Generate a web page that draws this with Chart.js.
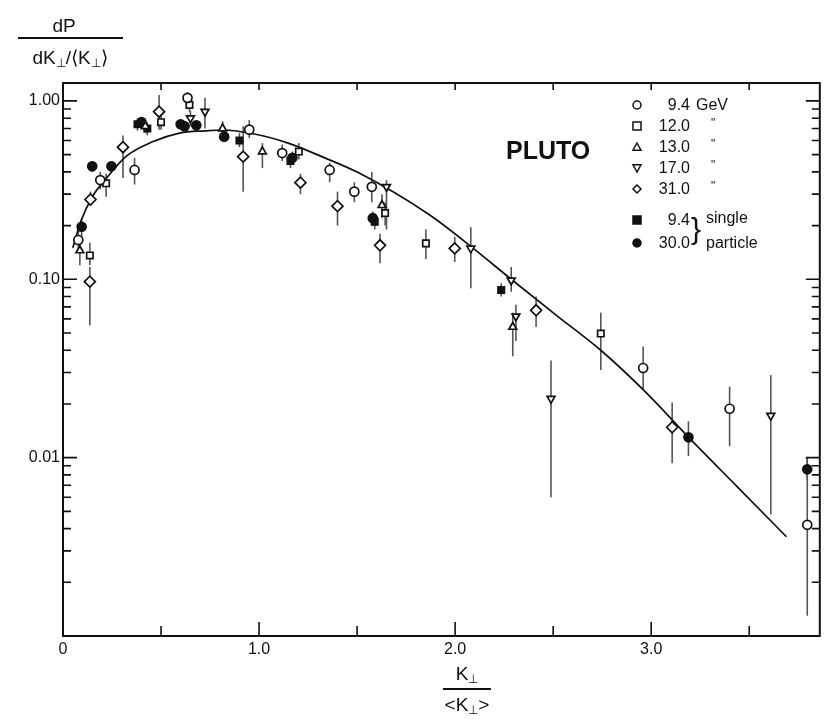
<!DOCTYPE html>
<html>
<head>
<meta charset="utf-8">
<script src="https://cdn.jsdelivr.net/npm/chart.js@4.4.0/dist/chart.umd.min.js"></script>
<style>
  html, body { margin: 0; padding: 0; background: #fff; }
  #wrap { width: 827px; height: 724px; }
</style>
</head>
<body>
<div id="wrap"><canvas id="chart" width="827" height="724"></canvas></div>
<script>
// fitted curve
const curveK = [0.05, 0.09, 0.154, 0.205, 0.323, 0.457, 0.594, 0.73, 0.81, 0.983, 1.152, 1.32, 1.508, 1.863, 2.083, 2.286, 2.523, 2.743, 2.963, 3.2, 3.437, 3.69];
const curveP = [0.15, 0.21, 0.296, 0.35, 0.49, 0.59, 0.66, 0.68, 0.687, 0.65, 0.578, 0.487, 0.395, 0.232, 0.152, 0.1, 0.062, 0.04, 0.0238, 0.0127, 0.0069, 0.0036];

// points: [K/<K>, dP, error low, error high]
const circle94 = [
  [0.078, 0.166, 0.14, 0.2], [0.19, 0.36, 0.32, 0.4], [0.365, 0.41, 0.34, 0.48],
  [0.635, 1.04, 0.95, 1.12], [0.95, 0.69, 0.62, 0.78], [1.118, 0.51, 0.46, 0.57],
  [1.36, 0.41, 0.35, 0.45], [1.486, 0.31, 0.27, 0.35], [1.575, 0.33, 0.27, 0.4],
  [2.959, 0.0318, 0.024, 0.042], [3.4, 0.0188, 0.0116, 0.025], [3.796, 0.0042, 0.0013, 0.01]
];
const square120 = [
  [0.137, 0.136, 0.12, 0.16], [0.22, 0.345, 0.29, 0.39], [0.5, 0.76, 0.69, 0.84],
  [0.645, 0.95, 0.87, 1.03], [1.203, 0.52, 0.47, 0.58], [1.643, 0.235, 0.2, 0.27],
  [1.851, 0.159, 0.13, 0.19], [2.743, 0.0496, 0.031, 0.065]
];
const triUp130 = [
  [0.086, 0.145, 0.12, 0.17], [0.42, 0.72, 0.66, 0.8], [0.814, 0.7, 0.63, 0.77],
  [1.017, 0.52, 0.42, 0.58], [1.627, 0.26, 0.22, 0.3], [2.294, 0.054, 0.037, 0.065]
];
const triDown170 = [
  [0.724, 0.87, 0.7, 1.04], [0.65, 0.8, 0.72, 0.88], [1.65, 0.33, 0.19, 0.36],
  [2.08, 0.149, 0.089, 0.196], [2.286, 0.0987, 0.085, 0.117], [2.31, 0.062, 0.045, 0.072],
  [2.489, 0.0214, 0.006, 0.035], [3.61, 0.0172, 0.0048, 0.029]
];
const diamond310 = [
  [0.137, 0.097, 0.055, 0.117], [0.14, 0.28, 0.26, 0.31], [0.306, 0.55, 0.37, 0.64],
  [0.49, 0.87, 0.69, 1.08], [0.919, 0.487, 0.31, 0.72], [1.211, 0.348, 0.3, 0.39],
  [1.4, 0.257, 0.2, 0.31], [1.617, 0.155, 0.123, 0.18], [1.998, 0.149, 0.125, 0.173],
  [2.413, 0.067, 0.054, 0.08], [3.107, 0.0148, 0.0093, 0.0204]
];
const single94 = [
  [0.38, 0.74, 0.68, 0.8], [0.43, 0.7, 0.64, 0.76], [0.9, 0.6, 0.55, 0.66],
  [1.16, 0.46, 0.42, 0.5], [1.59, 0.21, 0.19, 0.23], [2.235, 0.087, 0.08, 0.095]
];
const single300 = [
  [0.095, 0.197, 0.17, 0.22], [0.149, 0.43, 0.4, 0.46], [0.247, 0.43, 0.4, 0.46],
  [0.4, 0.76, 0.72, 0.8], [0.6, 0.74, 0.7, 0.78], [0.62, 0.72, 0.68, 0.76],
  [0.68, 0.73, 0.69, 0.77], [0.822, 0.63, 0.59, 0.67], [1.17, 0.48, 0.44, 0.52],
  [1.58, 0.22, 0.2, 0.24], [3.19, 0.013, 0.0102, 0.016], [3.796, 0.0086, 0.0075, 0.01]
];

const xTickValues = [0, 0.5, 1, 1.5, 2, 2.5, 3, 3.5];
const yLabelValues = [0.01, 0.1, 1];

const legendRows = [
  { style: 'circle', filled: false, num: '9.4', unit: 'GeV' },
  { style: 'rect', filled: false, num: '12.0', unit: '"' },
  { style: 'triangle', filled: false, num: '13.0', unit: '"' },
  { style: 'triDown', filled: false, num: '17.0', unit: '"' },
  { style: 'rectRot', filled: false, num: '31.0', unit: '"' },
  { style: 'rect', filled: true, num: '9.4', unit: '' },
  { style: 'circle', filled: true, num: '30.0', unit: '' }
];

const INK = '#111';
const FONT = '"Liberation Sans", Arial, sans-serif';

const pointSet = (rows, style, filled, rotation) => ({
  type: 'scatter',
  data: rows.map(r => ({ x: r[0], y: r[1] })),
  errors: rows.map(r => [r[2], r[3]]),
  pointStyle: style,
  rotation: rotation || 0,
  pointRadius: style === 'rectRot' ? 5.5 : 4.5,
  borderWidth: 1.7,
  borderColor: INK,
  backgroundColor: filled ? INK : '#fff',
  order: 1
});

// vertical error bars, drawn under the markers
const errorBars = {
  id: 'errorBars',
  beforeDatasetsDraw(chart) {
    const { ctx, scales: { x, y } } = chart;
    ctx.save();
    ctx.strokeStyle = '#555';
    ctx.lineWidth = 1.6;
    chart.data.datasets.forEach(ds => {
      if (!ds.errors) return;
      ds.errors.forEach((e, i) => {
        const px = x.getPixelForValue(ds.data[i].x);
        ctx.beginPath();
        ctx.moveTo(px, y.getPixelForValue(e[0]));
        ctx.lineTo(px, y.getPixelForValue(e[1]));
        ctx.stroke();
      });
    });
    ctx.restore();
  }
};

function drawSym(ctx, style, cx, cy, r, filled) {
  ctx.beginPath();
  if (style === 'circle') ctx.arc(cx, cy, r, 0, Math.PI * 2);
  else if (style === 'rect') ctx.rect(cx - r, cy - r, 2 * r, 2 * r);
  else if (style === 'triangle') { ctx.moveTo(cx, cy - r); ctx.lineTo(cx + r, cy + r * 0.8); ctx.lineTo(cx - r, cy + r * 0.8); ctx.closePath(); }
  else if (style === 'triDown') { ctx.moveTo(cx, cy + r); ctx.lineTo(cx + r, cy - r * 0.8); ctx.lineTo(cx - r, cy - r * 0.8); ctx.closePath(); }
  else if (style === 'rectRot') { ctx.moveTo(cx, cy - r); ctx.lineTo(cx + r, cy); ctx.lineTo(cx, cy + r); ctx.lineTo(cx - r, cy); ctx.closePath(); }
  if (filled) { ctx.fillStyle = INK; ctx.fill(); }
  ctx.stroke();
}

// text pieces with subscripts
function drawParts(ctx, parts, x, base, size, align) {
  const widths = parts.map(p => {
    ctx.font = (p.sub ? size * 0.62 : size) + 'px ' + FONT;
    return ctx.measureText(p.t).width;
  });
  const total = widths.reduce((a, b) => a + b, 0);
  let cx = align === 'center' ? x - total / 2 : x;
  ctx.textAlign = 'left';
  ctx.textBaseline = 'alphabetic';
  parts.forEach((p, i) => {
    ctx.font = (p.sub ? size * 0.62 : size) + 'px ' + FONT;
    ctx.fillText(p.t, cx, p.sub ? base + 3 : base);
    cx += widths[i];
  });
}

const frameAndText = {
  id: 'frameAndText',
  afterDraw(chart) {
    const { ctx, chartArea: a, scales: { x, y } } = chart;
    ctx.save();
    ctx.strokeStyle = INK;
    ctx.fillStyle = INK;
    ctx.lineWidth = 2;
    ctx.strokeRect(a.left, a.top, a.right - a.left, a.bottom - a.top);

    // x ticks, inward on bottom and top
    ctx.lineWidth = 1.6;
    xTickValues.forEach(v => {
      if (v === 0) return;
      const px = x.getPixelForValue(v);
      const len = Number.isInteger(v) ? 14 : 10;
      ctx.beginPath();
      ctx.moveTo(px, a.bottom); ctx.lineTo(px, a.bottom - len);
      ctx.moveTo(px, a.top); ctx.lineTo(px, a.top + 7);
      ctx.stroke();
    });
    // y ticks, log decades with minors
    for (let d = 0.001; d < 2; d *= 10) {
      for (let m = 1; m <= 9; m++) {
        const v = d * m;
        if (v > y.max || v <= y.min) continue;
        const py = y.getPixelForValue(v);
        const len = m === 1 ? 14 : 8;
        ctx.beginPath();
        ctx.moveTo(a.left, py); ctx.lineTo(a.left + len, py);
        ctx.moveTo(a.right, py); ctx.lineTo(a.right - len, py);
        ctx.stroke();
      }
    }

    // y axis title: dP / dK⊥/⟨K⊥⟩
    drawParts(ctx, [{ t: 'dP' }], 64, 32, 19, 'center');
    ctx.lineWidth = 2;
    ctx.beginPath(); ctx.moveTo(18, 38); ctx.lineTo(123, 38); ctx.stroke();
    drawParts(ctx, [{ t: 'dK' }, { t: '⊥', sub: true }, { t: '/⟨K' }, { t: '⊥', sub: true }, { t: '⟩' }], 70, 64, 19, 'center');

    // x axis title: K⊥ / <K⊥>
    drawParts(ctx, [{ t: 'K' }, { t: '⊥', sub: true }], 467, 680, 19, 'center');
    ctx.beginPath(); ctx.moveTo(443, 689); ctx.lineTo(491, 689); ctx.stroke();
    drawParts(ctx, [{ t: '<K' }, { t: '⊥', sub: true }, { t: '>' }], 467, 711, 19, 'center');

    // PLUTO
    ctx.font = 'bold 25px ' + FONT;
    ctx.textAlign = 'left';
    ctx.fillText('PLUTO', 506, 159);

    // legend
    const rowY = [105, 126, 147, 168, 189, 220, 243];
    ctx.lineWidth = 1.5;
    legendRows.forEach((row, i) => {
      drawSym(ctx, row.style, 637, rowY[i], 4, row.filled);
      ctx.font = '16px ' + FONT;
      ctx.textAlign = 'right';
      ctx.textBaseline = 'middle';
      ctx.fillText(row.num, 690, rowY[i] + 1);
      ctx.textAlign = 'left';
      if (row.unit === 'GeV') ctx.fillText('GeV', 696, rowY[i] + 1);
      else if (row.unit) { ctx.font = '12px ' + FONT; ctx.fillText(row.unit, 711, rowY[i] - 2); }
    });
    ctx.font = '30px ' + FONT;
    ctx.textAlign = 'left';
    ctx.textBaseline = 'middle';
    ctx.fillText('}', 691, 231);
    ctx.font = '16px ' + FONT;
    ctx.fillText('single', 706, 219);
    ctx.fillText('particle', 706, 244);
    ctx.restore();
  }
};

new Chart(document.getElementById('chart'), {
  data: {
    datasets: [
      {
        type: 'line',
        data: curveK.map((k, i) => ({ x: k, y: curveP[i] })),
        borderColor: INK,
        borderWidth: 1.7,
        pointRadius: 0,
        fill: false,
        cubicInterpolationMode: 'monotone',
        order: 2
      },
      pointSet(circle94, 'circle', false),
      pointSet(square120, 'rect', false),
      pointSet(triUp130, 'triangle', false),
      pointSet(triDown170, 'triangle', false, 180),
      pointSet(diamond310, 'rectRot', false),
      pointSet(single94, 'rect', true),
      pointSet(single300, 'circle', true)
    ]
  },
  options: {
    responsive: false,
    animation: false,
    layout: { padding: { top: 83, right: 3, left: 0, bottom: 0 } },
    plugins: { legend: { display: false }, tooltip: { enabled: false } },
    scales: {
      x: {
        type: 'linear',
        min: 0,
        max: 3.86,
        grid: { display: false, drawTicks: false },
        border: { display: false },
        afterFit: s => { s.height = 88; },
        ticks: {
          stepSize: 0.5,
          autoSkip: false,
          maxRotation: 0,
          padding: 4,
          color: INK,
          font: { family: FONT, size: 16 },
          callback: v => v === 0 ? '0' : (Number.isInteger(v) ? v.toFixed(1) : '')
        }
      },
      y: {
        type: 'logarithmic',
        min: 0.001,
        max: 1.26,
        grid: { display: false, drawTicks: false },
        border: { display: false },
        afterFit: s => { s.width = 63; },
        afterBuildTicks: s => { s.ticks = yLabelValues.map(v => ({ value: v })); },
        ticks: {
          padding: 3,
          color: INK,
          font: { family: FONT, size: 16 },
          callback: v => Number(v).toFixed(2)
        }
      }
    }
  },
  plugins: [errorBars, frameAndText]
});
</script>
</body>
</html>
